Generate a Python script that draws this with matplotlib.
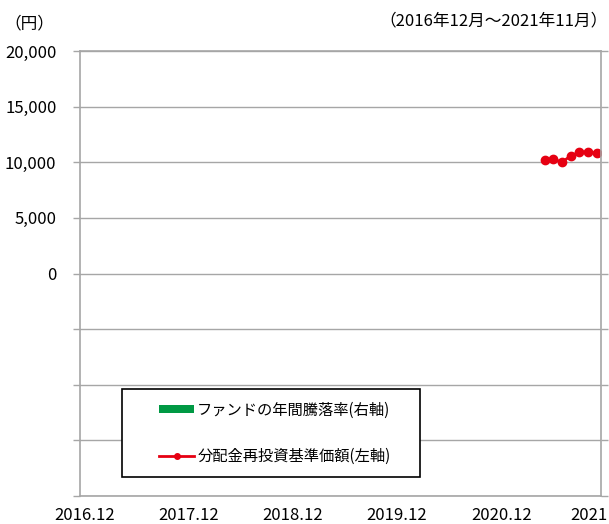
import numpy as np
import matplotlib
matplotlib.use('Agg')
import matplotlib.pyplot as plt
import matplotlib.transforms as mtransforms
from matplotlib.patches import Patch, Rectangle
from matplotlib.lines import Line2D

plt.rcParams['font.family'] = ['Noto Sans CJK JP', 'DejaVu Sans']

# 月次インデックス: 0 = 2016.12 ... 59 = 2021.11
months = np.arange(53, 60)
nav = [10210, 10300, 10000, 10570, 10900, 10930, 10810]

tick_pos = [0, 12, 24, 36, 48, 59]
tick_labels = ['2016.12', '2017.12', '2018.12', '2019.12', '2020.12', '2021']
y_ticks = np.arange(-20000, 20001, 5000)
y_labels = ['' if v < 0 else f'{v:,}' for v in y_ticks]

W, H = 609, 524
fig = plt.figure(figsize=(W/100, H/100), dpi=100)
ax = fig.add_axes([80/W, 1 - 496/H, 521/W, 445/H])

grid_c = '#a6a6a6'
ax.set_xlim(-0.5, 59.5)
ax.set_ylim(-20000, 20000)
ax.set_yticks(y_ticks)
ax.set_yticklabels(y_labels, fontsize=12)
ax.grid(axis='y', color=grid_c, linewidth=1)
ax.set_axisbelow(True)
for s in ax.spines.values():
    s.set_color(grid_c)
    s.set_linewidth(1.2)
ax.tick_params(axis='y', length=5, color=grid_c, width=1, right=True, pad=12)

ax.set_xticks(tick_pos)
ax.set_xticklabels(tick_labels, fontsize=12)
ax.tick_params(axis='x', length=0, pad=8)
last = ax.get_xticklabels()[-1]
last.set_transform(last.get_transform() + mtransforms.ScaledTranslation(-8/100, 0, fig.dpi_scale_trans))

ax.plot(months, nav, color='#e60012', linewidth=2, marker='o', markersize=6)

fig.text(4/W, 1 - 24/H, '（円）', fontsize=12, va='center', ha='left')
fig.text(608/W, 1 - 21/H, '（2016年12月～2021年11月）', fontsize=12, va='center', ha='right')

# 凡例
fig.patches.append(Rectangle((122/W, 1 - 477/H), 298/W, 88/H, transform=fig.transFigure,
                             facecolor='white', edgecolor='#000000', linewidth=1.2))
handles = [Patch(facecolor='#009944', edgecolor='none'),
           Line2D([0], [0], color='#e60012', linewidth=2, marker='o', markersize=4)]
labels = ['ファンドの年間騰落率(右軸)', '分配金再投資基準価額(左軸)']
leg = fig.legend(handles, labels, loc='center left', bbox_to_anchor=(159/W, 1 - 433/H),
                 fontsize=11, frameon=False, handlelength=2.3, handleheight=0.45,
                 labelspacing=1.9, borderpad=0, handletextpad=0.2, borderaxespad=0)

fig.savefig('out.png', dpi=100)
